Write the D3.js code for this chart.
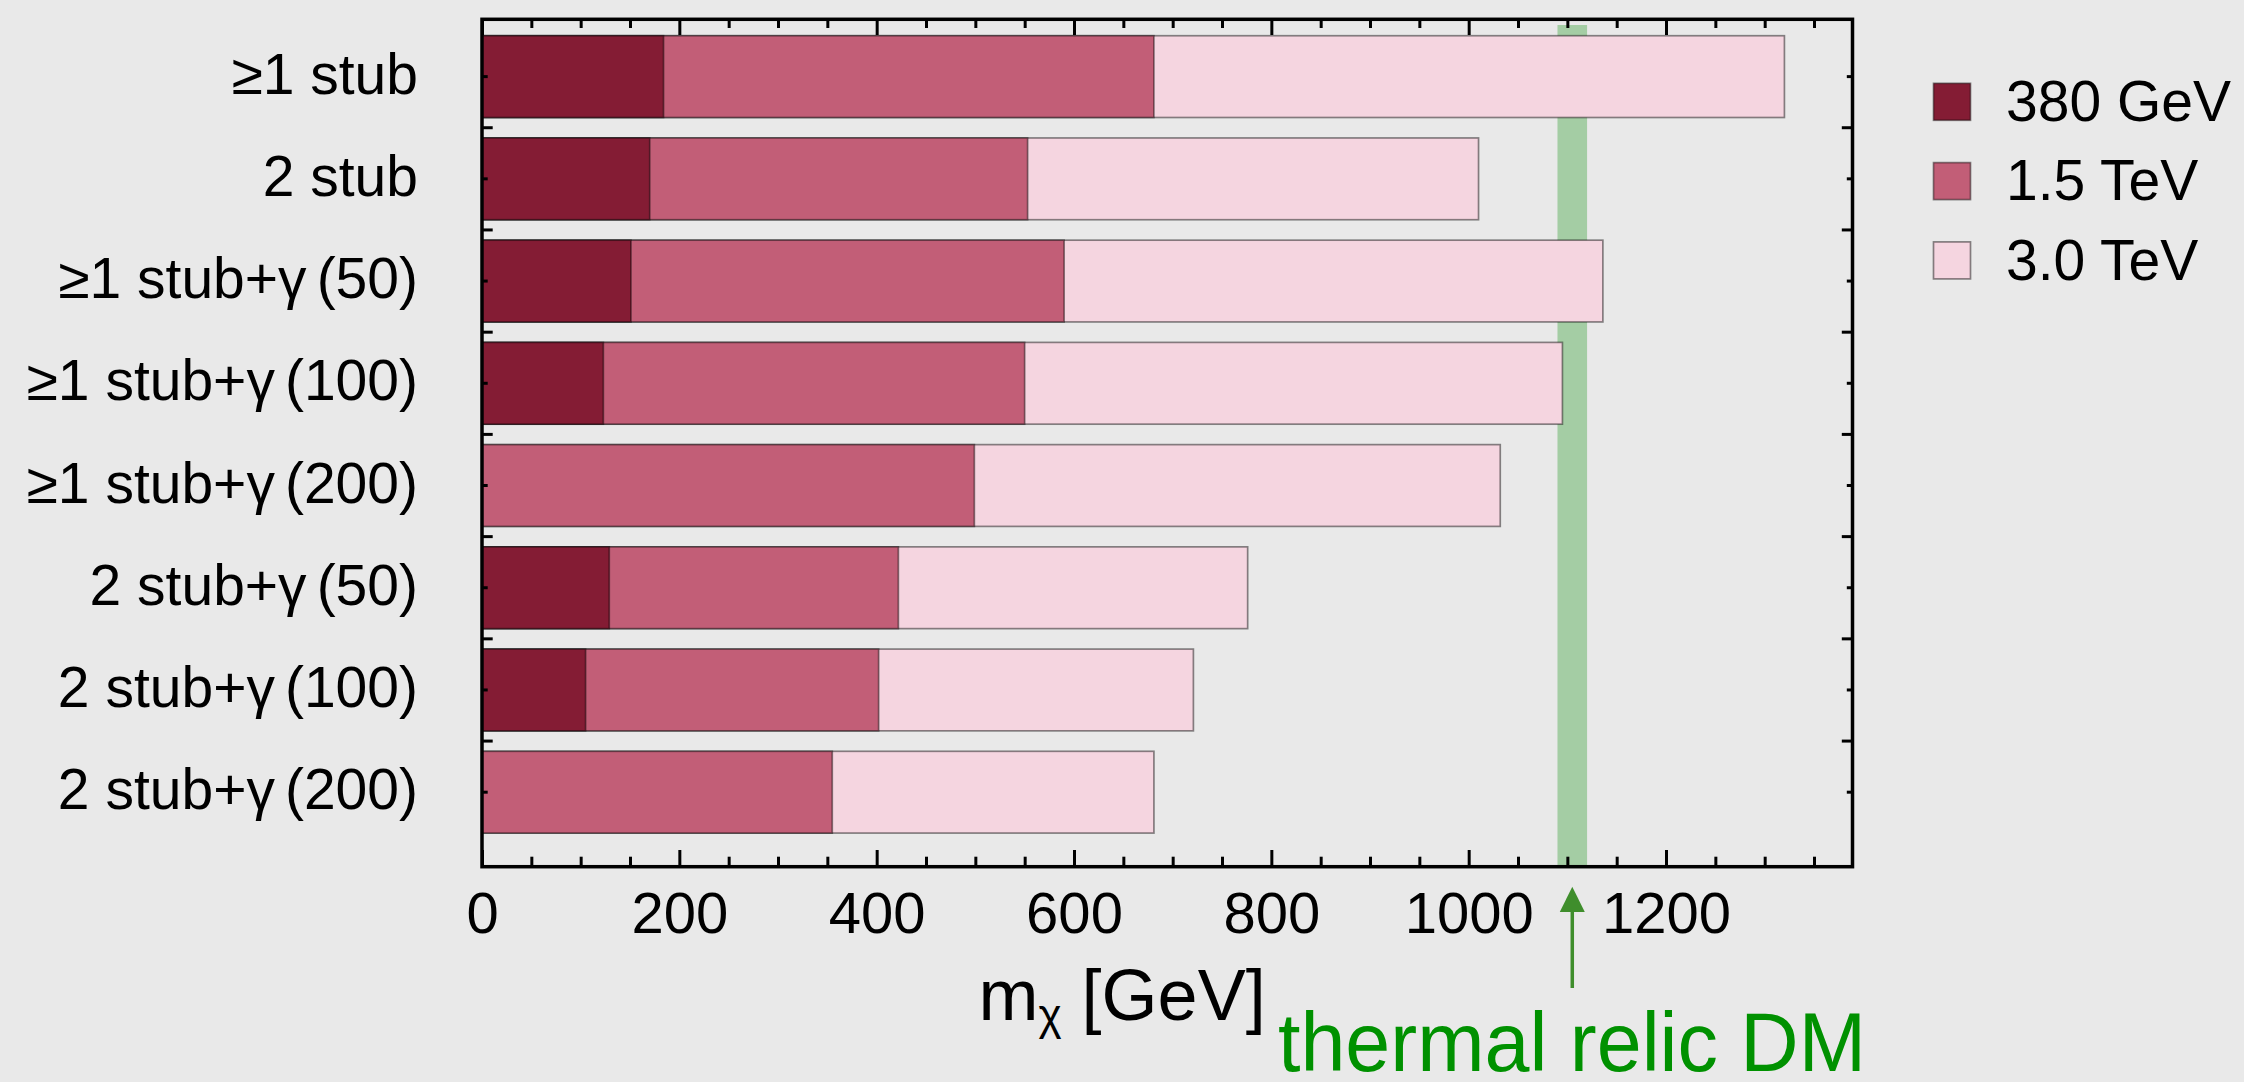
<!DOCTYPE html>
<html>
<head>
<meta charset="utf-8">
<script src="https://cdn.jsdelivr.net/npm/d3@7"></script>
<style>
  html, body { margin: 0; padding: 0; background: #e9e9e9; }
  svg { display: block; }
  text { font-family: "Liberation Sans", Arial, Helvetica, sans-serif; }
</style>
</head>
<body>
<svg id="chart" width="2244" height="1082"></svg>
<script>
// Signal categories (one horizontal bar group each)
const categories = [
  "≥1 stub",
  "2 stub",
  "≥1 stub+γ(50)",
  "≥1 stub+γ(100)",
  "≥1 stub+γ(200)",
  "2 stub+γ(50)",
  "2 stub+γ(100)",
  "2 stub+γ(200)"
];

// Collider energies shown in the legend
const energies = ["380 GeV", "1.5 TeV", "3.0 TeV"];

// Mass reach m_chi [GeV] per category for each energy (null = no reach)
const reach380  = [184, 170, 151, 123, null, 129, 105, null];
const reach1500 = [681, 553, 590, 550, 499, 422, 402, 355];
const reach3000 = [1320, 1010, 1136, 1095, 1032, 776, 721, 681];

// Axis ticks
const majorTicks = [0, 200, 400, 600, 800, 1000, 1200];
const minorTicks = [50, 100, 150, 250, 300, 350, 450, 500, 550, 650, 700, 750, 850, 900, 950, 1050, 1100, 1150, 1250, 1300, 1350];

// Thermal relic mass band [GeV] and its marker position
const relicBand = [1090, 1120];
const relicMass = 1105;

const colors = ["#841c34", "#c25e77", "#f5d5e0"];
const reachBySeries = [reach380, reach1500, reach3000];

const svg = d3.select("#chart");

svg.append("rect")
  .attr("width", 2244).attr("height", 1082)
  .attr("fill", "#e9e9e9");

const frame = { left: 482, right: 1852.5, top: 19.3, bottom: 866.7 };

const x = d3.scaleLinear().domain([0, 1389]).range([frame.left, frame.right]);
const y = d3.scaleBand().domain(categories)
  .range([25.5, 843.3]).paddingInner(0.2).paddingOuter(0.1);

// relic band, behind the bars
svg.append("rect")
  .attr("x", x(relicBand[0]))
  .attr("y", 25)
  .attr("width", x(relicBand[1]) - x(relicBand[0]))
  .attr("height", frame.bottom - 25)
  .attr("fill", "#a4cda4");

// overlapping bars: widest (3 TeV) first, 380 GeV on top
const barsG = svg.append("g");
[2, 1, 0].forEach(s => {
  const vals = reachBySeries[s];
  barsG.selectAll(null)
    .data(categories.map((c, i) => ({ c, v: vals[i] })).filter(d => d.v != null))
    .join("rect")
    .attr("x", x(0))
    .attr("y", d => y(d.c))
    .attr("width", d => x(d.v) - x(0))
    .attr("height", y.bandwidth())
    .attr("fill", colors[s])
    .attr("stroke", "rgba(0,0,0,0.45)")
    .attr("stroke-width", 1.7);
});

// helper to style tick groups
function styleTicks(g) {
  g.select(".domain").remove();
  g.selectAll(".tick line").attr("stroke", "#000").attr("stroke-width", 3);
}

// bottom axis: inward ticks, labels below
svg.append("g")
  .attr("transform", `translate(0,${frame.bottom})`)
  .call(d3.axisBottom(x).tickValues(majorTicks).tickSizeInner(-16.7).tickSizeOuter(0).tickPadding(25).tickFormat(d3.format("d")))
  .call(styleTicks)
  .call(g => g.selectAll(".tick text").attr("font-size", 58).attr("fill", "#000")
    .attr("font-family", "'Liberation Sans', Arial, sans-serif"));
svg.append("g")
  .attr("transform", `translate(0,${frame.bottom})`)
  .call(d3.axisBottom(x).tickValues(minorTicks).tickSizeInner(-10).tickSizeOuter(0).tickFormat(""))
  .call(styleTicks);

// top axis: inward ticks only
svg.append("g")
  .attr("transform", `translate(0,${frame.top})`)
  .call(d3.axisTop(x).tickValues(majorTicks).tickSizeInner(-15.7).tickSizeOuter(0).tickFormat(""))
  .call(styleTicks);
svg.append("g")
  .attr("transform", `translate(0,${frame.top})`)
  .call(d3.axisTop(x).tickValues(minorTicks).tickSizeInner(-8.7).tickSizeOuter(0).tickFormat(""))
  .call(styleTicks);

// left axis: category labels with short ticks at bar centres
svg.append("g")
  .attr("transform", `translate(${frame.left},0)`)
  .call(d3.axisLeft(y).tickSizeInner(-5.7).tickSizeOuter(0).tickPadding(64))
  .call(styleTicks)
  .call(g => g.selectAll(".tick text").attr("font-size", 57).attr("fill", "#000")
    .attr("font-family", "'Liberation Sans', Arial, sans-serif").attr("dy", "0.3em"))
  // open up a little room between the photon symbol and its threshold
  .call(g => g.selectAll(".tick text").each(function (d) {
    const k = d.indexOf("γ");
    if (k < 0) return;
    const t = d3.select(this).text(null);
    t.append("tspan").text(d.slice(0, k + 1));
    t.append("tspan").attr("dx", 10).text(d.slice(k + 1));
  }));

// right axis: short ticks at bar centres
svg.append("g")
  .attr("transform", `translate(${frame.right},0)`)
  .call(d3.axisRight(y).tickSizeInner(-5.7).tickSizeOuter(0).tickFormat(""))
  .call(styleTicks);

// longer ticks on the band boundaries between neighbouring bars
const gapY = categories.slice(0, -1).map(c => y(c) + y.bandwidth() + y.step() * y.paddingInner() / 2);
svg.append("g").selectAll("line")
  .data(gapY).join("line")
  .attr("x1", frame.left).attr("x2", frame.left + 10.7)
  .attr("y1", d => d).attr("y2", d => d)
  .attr("stroke", "#000").attr("stroke-width", 3);
svg.append("g").selectAll("line")
  .data(gapY).join("line")
  .attr("x1", frame.right).attr("x2", frame.right - 10.7)
  .attr("y1", d => d).attr("y2", d => d)
  .attr("stroke", "#000").attr("stroke-width", 3);

// plot frame
svg.append("rect")
  .attr("x", frame.left).attr("y", frame.top)
  .attr("width", frame.right - frame.left).attr("height", frame.bottom - frame.top)
  .attr("fill", "none").attr("stroke", "#000").attr("stroke-width", 3.5);

// x axis title: m_chi [GeV]
const title = svg.append("text")
  .attr("x", 978.5).attr("y", 1020)
  .attr("font-size", 72).attr("fill", "#000");
title.append("tspan").text("m");
title.append("tspan").attr("font-size", 44).attr("dy", 10).text("χ");
title.append("tspan").attr("dy", -10).text(" [GeV]");

// thermal relic marker: arrow and label
const ax = x(relicMass);
svg.append("line")
  .attr("x1", ax).attr("x2", ax).attr("y1", 908).attr("y2", 988)
  .attr("stroke", "#3f8e2c").attr("stroke-width", 3.5);
svg.append("path")
  .attr("d", `M${ax},886.7 L${ax - 12.5},912 L${ax + 12.5},912 Z`)
  .attr("fill", "#3f8e2c");
svg.append("text")
  .attr("x", 1278).attr("y", 1071)
  .attr("font-size", 84)
  .attr("textLength", 588).attr("lengthAdjust", "spacingAndGlyphs")
  .attr("fill", "#009100")
  .text("thermal relic DM");

// legend
const legend = svg.append("g");
const lg = legend.selectAll("g").data(energies).join("g")
  .attr("transform", (d, i) => `translate(1933.5,${83.3 + i * 79.3})`);
lg.append("rect")
  .attr("width", 37).attr("height", 37)
  .attr("fill", (d, i) => colors[i])
  .attr("stroke", "rgba(0,0,0,0.45)").attr("stroke-width", 1.7);
lg.append("text")
  .attr("x", 72.5).attr("y", 37.7)
  .attr("font-size", 57).attr("fill", "#000")
  .text(d => d);
</script>
</body>
</html>
